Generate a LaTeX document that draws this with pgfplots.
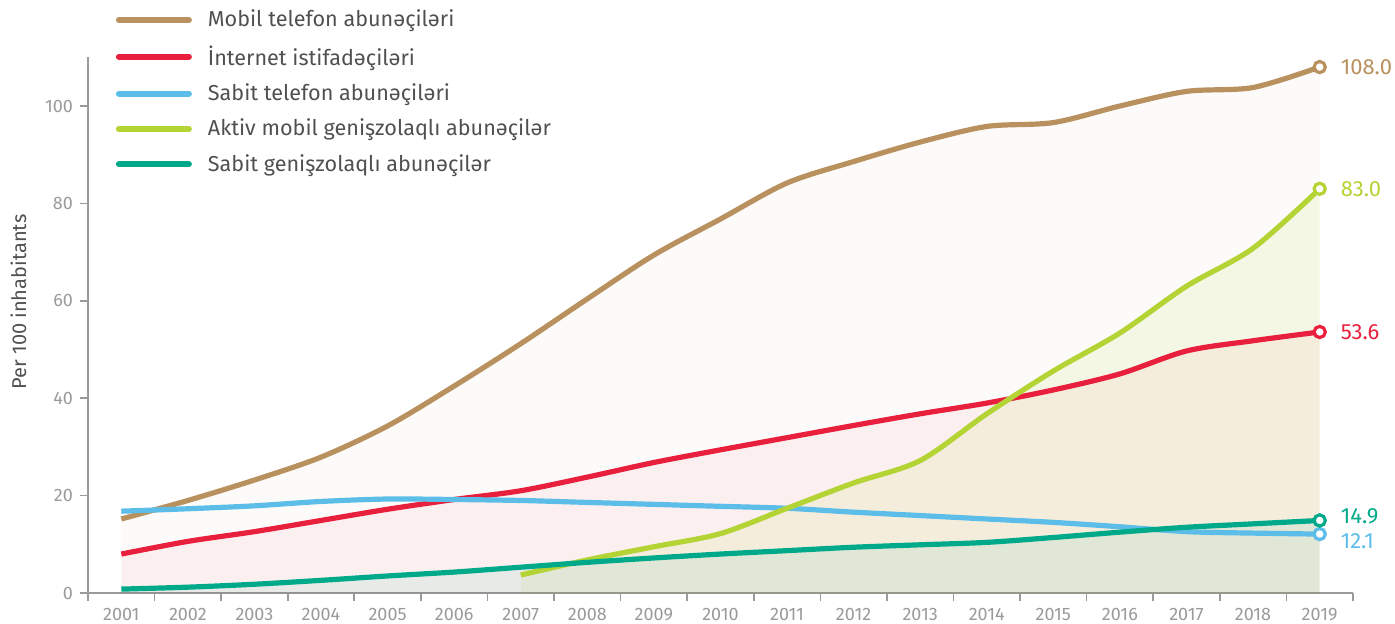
\documentclass[border=0pt]{standalone}
\usepackage{pgfplots}
\usepackage{pgfplotstable}
\pgfplotsset{compat=1.18}
\usepackage{fontspec}
\setmainfont{Fira Sans}
\definecolor{cMob}{HTML}{B8915E}
\definecolor{cInt}{HTML}{E8203E}
\definecolor{cTel}{HTML}{5CBDE9}
\definecolor{cAkt}{HTML}{B4D334}
\definecolor{cBro}{HTML}{00A98A}
\definecolor{axgray}{HTML}{9A9A9A}
\definecolor{txt}{HTML}{505050}

\pgfplotstableread{
x y
2001 15.2
2002 19.0
2003 23.2
2004 27.9
2005 34.3
2006 42.5
2007 51.2
2008 60.4
2009 69.4
2010 76.8
2011 84.2
2012 88.6
2013 92.6
2014 95.8
2015 96.6
2016 100.0
2017 103.0
2018 103.8
2019 108.0
}\mob
\pgfplotstableread{
x y
2001 8.0
2002 10.6
2003 12.6
2004 14.9
2005 17.2
2006 19.2
2007 21.0
2008 23.8
2009 26.8
2010 29.4
2011 31.9
2012 34.4
2013 36.8
2014 39.0
2015 41.7
2016 45.0
2017 49.7
2018 51.8
2019 53.6
}\inte
\pgfplotstableread{
x y
2001 16.8
2002 17.3
2003 17.9
2004 18.8
2005 19.3
2006 19.2
2007 19.0
2008 18.6
2009 18.2
2010 17.8
2011 17.4
2012 16.6
2013 15.9
2014 15.2
2015 14.5
2016 13.6
2017 12.6
2018 12.3
2019 12.1
}\tel
\pgfplotstableread{
x y
2007 3.7
2008 6.8
2009 9.5
2010 12.2
2011 17.4
2012 22.6
2013 27.2
2014 36.8
2015 45.6
2016 53.4
2017 63.0
2018 70.8
2019 83.0
}\akt
\pgfplotstableread{
x y
2001 0.8
2002 1.2
2003 1.8
2004 2.6
2005 3.5
2006 4.3
2007 5.3
2008 6.3
2009 7.2
2010 8.0
2011 8.7
2012 9.4
2013 9.9
2014 10.4
2015 11.4
2016 12.5
2017 13.5
2018 14.2
2019 14.9
}\bro

\begin{document}
\begin{tikzpicture}
\path[use as bounding box] (-44pt,-15pt) rectangle (653.5pt,296.5pt);
\begin{axis}[
  scale only axis, width=632.5pt, height=267.85pt,
  xmin=2000.5, xmax=2019.5, ymin=0, ymax=110,
  axis x line=bottom, axis y line=left,
  axis line style={draw=axgray, line width=0.8pt, -},
  xtick={2001,...,2019},
  minor xtick={2000.5,2001.5,...,2019.5},
  major x tick style={draw=none},
  minor x tick style={draw=axgray, line width=0.8pt},
  minor tick length=4pt,
  major tick length=4pt,
  tick align=outside,
  ytick={0,20,...,100},
  y tick style={draw=axgray, line width=0.8pt},
  /pgf/number format/assume math mode=true,
  x tick label style={/pgf/number format/1000 sep={}, font=\fontsize{9}{10}\selectfont, text=axgray},
  y tick label style={font=\fontsize{9}{10}\selectfont, text=axgray},
  ylabel={Per 100 inhabitants},
  ylabel style={at={(axis description cs:-0.055,0.543)}, anchor=center, font=\fontsize{10}{12}\selectfont, text=txt},
  legend style={at={(axis description cs:0.017,1.104)}, anchor=north west, draw=none, fill=none,
    font=\fontsize{10.8}{13}\selectfont, text=txt, row sep=3.8pt,
    /tikz/every odd column/.style={column sep=6pt}},
  legend cell align=left,
  legend image code/.code={\draw[line width=3pt, line cap=round,#1] (0pt,0pt) -- (35pt,0pt);},
  clip=false,
]
\addplot[draw=none, fill=cMob, fill opacity=0.04, smooth, forget plot] table {\mob} \closedcycle;
\addplot[draw=none, fill=cInt, fill opacity=0.05, smooth, forget plot] table {\inte} \closedcycle;
\addplot[draw=none, fill=cAkt, fill opacity=0.10, smooth, forget plot] table {\akt} \closedcycle;
\addplot[draw=none, fill=cBro, fill opacity=0.08, smooth, forget plot] table {\bro} \closedcycle;

\addplot[cMob, line width=2.6pt, smooth, mark=*, mark indices={19}, mark size=2.8pt, mark options={fill=white, line width=1.6pt}] table {\mob};
\addlegendentry{Mobil telefon abunəçiləri}
\addplot[cInt, line width=2.6pt, smooth, mark=*, mark indices={19}, mark size=2.8pt, mark options={fill=white, line width=1.6pt}] table {\inte};
\addlegendentry{İnternet istifadəçiləri}
\addplot[cTel, line width=2.6pt, smooth, mark=*, mark indices={19}, mark size=2.8pt, mark options={fill=white, line width=1.6pt}] table {\tel};
\addlegendentry{Sabit telefon abunəçiləri}
\addplot[cAkt, line width=2.6pt, smooth, mark=*, mark indices={13}, mark size=2.8pt, mark options={fill=white, line width=1.6pt}] table {\akt};
\addlegendentry{Aktiv mobil genişzolaqlı abunəçilər}
\addplot[cBro, line width=2.6pt, smooth, mark=*, mark indices={19}, mark size=2.8pt, mark options={fill=white, line width=1.6pt}] table {\bro};
\addlegendentry{Sabit genişzolaqlı abunəçilər}

\node[anchor=west, text=cMob, font=\fontsize{11}{13}\selectfont, xshift=7pt] at (axis cs:2019,108) {108.0};
\node[anchor=west, text=cAkt, font=\fontsize{11}{13}\selectfont, xshift=7pt] at (axis cs:2019,83) {83.0};
\node[anchor=west, text=cInt, font=\fontsize{11}{13}\selectfont, xshift=7pt] at (axis cs:2019,53.6) {53.6};
\node[anchor=west, text=cBro, font=\fontsize{11}{13}\selectfont, xshift=7pt, yshift=2pt] at (axis cs:2019,14.9) {14.9};
\node[anchor=west, text=cTel, font=\fontsize{11}{13}\selectfont, xshift=7pt, yshift=-3.5pt] at (axis cs:2019,12.1) {12.1};
\end{axis}
\end{tikzpicture}
\end{document}
